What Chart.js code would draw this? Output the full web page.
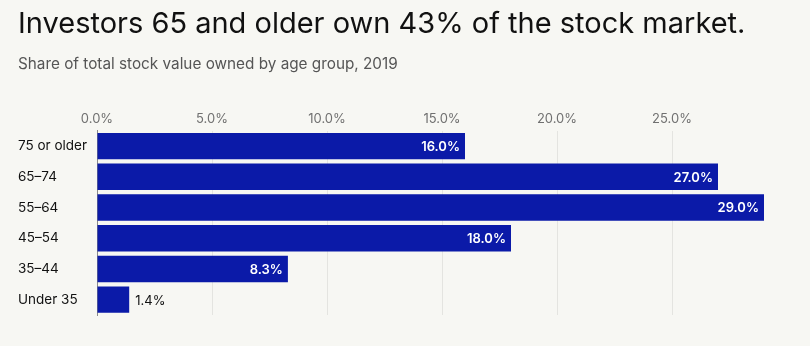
<!DOCTYPE html>
<html>
<head>
<meta charset="utf-8">
<script src="https://cdn.jsdelivr.net/npm/chart.js@4/dist/chart.umd.min.js"></script>
<style>
  html, body { margin: 0; padding: 0; background: #f7f7f3; }
  #wrap { width: 810px; height: 346px; position: relative; }
</style>
</head>
<body>
<div id="wrap"><canvas id="chart" width="810" height="346"></canvas></div>
<script>
// Age groups, top to bottom
const ageGroups = ['75 or older', '65–74', '55–64', '45–54', '35–44', 'Under 35'];
// Share of total stock value (%), 2019
const shareValues = [16.0, 27.0, 29.0, 18.0, 8.3, 1.4];
// Axis ticks shown along the top
const tickValues = [0, 5, 10, 15, 20, 25];

const FONT = 'Inter, "Liberation Sans", Arial, sans-serif';
const BAR_COLOR = '#0b1aa8';

// Writes each value at the end of its bar: inside in white when it fits, outside otherwise
const valueLabels = {
  id: 'valueLabels',
  afterDatasetsDraw(chart) {
    const ctx = chart.ctx;
    const meta = chart.getDatasetMeta(0);
    ctx.save();
    ctx.textBaseline = 'middle';
    meta.data.forEach((bar, i) => {
      const v = shareValues[i];
      const text = v.toFixed(1) + '%';
      if (v >= 5) {
        ctx.font = '600 13px ' + FONT;
        ctx.fillStyle = '#ffffff';
        ctx.textAlign = 'right';
        ctx.fillText(text, bar.x - 5, bar.y + 1);
      } else {
        ctx.font = '13px ' + FONT;
        ctx.fillStyle = '#111111';
        ctx.textAlign = 'left';
        ctx.fillText(text, bar.x + 6, bar.y + 1);
      }
    });
    ctx.restore();
  }
};

new Chart(document.getElementById('chart'), {
  type: 'bar',
  data: {
    labels: ageGroups,
    datasets: [{
      data: shareValues,
      backgroundColor: BAR_COLOR,
      borderWidth: 0,
      barPercentage: 1,
      categoryPercentage: 0.86
    }]
  },
  plugins: [valueLabels],
  options: {
    indexAxis: 'y',
    responsive: false,
    animation: false,
    layout: { padding: { left: 18, right: 46, top: 0, bottom: 31 } },
    plugins: {
      legend: { display: false },
      tooltip: { enabled: false },
      title: {
        display: true,
        align: 'start',
        text: 'Investors 65 and older own 43% of the stock market.',
        color: '#111111',
        font: { family: FONT, size: 29, weight: 'normal' },
        padding: { top: 7, bottom: 0 }
      },
      subtitle: {
        display: true,
        align: 'start',
        text: 'Share of total stock value owned by age group, 2019',
        color: '#555555',
        font: { family: FONT, size: 15.3 },
        padding: { top: 13, bottom: 34 }
      }
    },
    scales: {
      x: {
        position: 'top',
        min: 0,
        max: 29,
        afterBuildTicks(scale) {
          scale.ticks = tickValues.map(v => ({ value: v }));
        },
        ticks: {
          color: '#707070',
          font: { family: FONT, size: 13 },
          padding: 4,
          callback: v => Number(v).toFixed(1) + '%'
        },
        grid: { color: '#e4e4e0', drawTicks: false, lineWidth: 1 },
        border: { display: false }
      },
      y: {
        afterFit(scale) { scale.width = 79; },
        ticks: {
          crossAlign: 'far',
          color: '#111111',
          font: { family: FONT, size: 13.5 },
          padding: 8
        },
        grid: { display: false, drawTicks: false },
        border: { display: true, color: '#8a8a8a', width: 1 }
      }
    }
  }
});
</script>
</body>
</html>
